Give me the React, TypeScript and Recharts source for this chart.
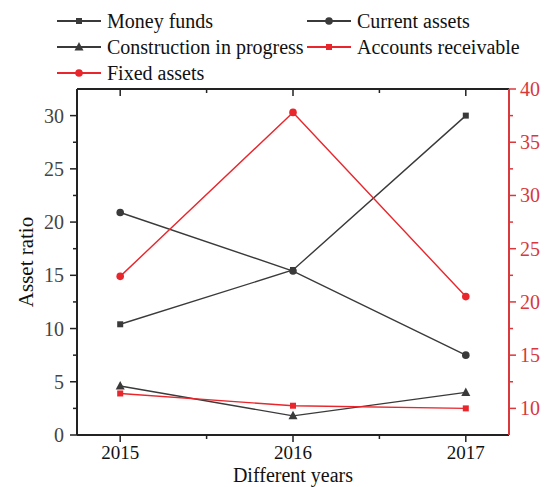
import React from 'react';
import { LineChart, Line, XAxis, YAxis, Legend, Label } from 'recharts';

const FONT = '"Liberation Serif", "Times New Roman", serif';
const BLACK = '#3a3a3a';
const RED = '#e8262c';
const AXIS_RED = '#d9383c';

const years = [2015, 2016, 2017];
const moneyFunds = [10.4, 15.5, 30.0];
const currentAssets = [20.9, 15.4, 7.5];
const construction = [4.6, 1.8, 4.0];
const accountsReceivable = [11.4, 10.25, 10.0];
const fixedAssets = [22.4, 37.8, 20.5];

const xTicks = [2015, 2015.5, 2016, 2016.5, 2017];
const leftTicks = [0, 2.5, 5, 7.5, 10, 12.5, 15, 17.5, 20, 22.5, 25, 27.5, 30];
const rightTicks = [10, 12.5, 15, 17.5, 20, 22.5, 25, 27.5, 30, 32.5, 35, 37.5, 40];

const data = years.map((year, i) => ({
  year,
  moneyFunds: moneyFunds[i],
  currentAssets: currentAssets[i],
  construction: construction[i],
  accountsReceivable: accountsReceivable[i],
  fixedAssets: fixedAssets[i],
}));

type Shape = 'square' | 'circle' | 'triangle';

const series: { key: string; name: string; color: string; shape: Shape; axis: string }[] = [
  { key: 'moneyFunds', name: 'Money funds', color: BLACK, shape: 'square', axis: 'left' },
  { key: 'currentAssets', name: 'Current assets', color: BLACK, shape: 'circle', axis: 'left' },
  { key: 'construction', name: 'Construction in progress', color: BLACK, shape: 'triangle', axis: 'left' },
  { key: 'accountsReceivable', name: 'Accounts receivable', color: RED, shape: 'square', axis: 'right' },
  { key: 'fixedAssets', name: 'Fixed assets', color: RED, shape: 'circle', axis: 'right' },
];

const Marker = ({ cx, cy, shape, color }: { cx: number; cy: number; shape: Shape; color: string }) => {
  if (shape === 'square') return <rect x={cx - 3} y={cy - 3} width={6} height={6} fill={color} />;
  if (shape === 'circle') return <circle cx={cx} cy={cy} r={3.8} fill={color} />;
  return <polygon points={`${cx},${cy - 5} ${cx - 4.5},${cy + 3.5} ${cx + 4.5},${cy + 3.5}`} fill={color} />;
};

// major ticks every 5 on the value axes
const isMajor = (v: number) => Math.abs(v % 5) < 1e-9;

const BottomTick = (props: any) => {
  const { x, y, payload } = props;
  const major = Number.isInteger(payload.value);
  return (
    <g>
      <line x1={x} x2={x} y1={y} y2={y + (major ? 7 : 4)} stroke="#222" strokeWidth={1.5} />
      {major && (
        <text x={x} y={y + 24} textAnchor="middle" fontSize={19} fontFamily={FONT} fill="#111">
          {payload.value}
        </text>
      )}
    </g>
  );
};

const TopTick = (props: any) => {
  const { x, y, payload } = props;
  const major = Number.isInteger(payload.value);
  return <line x1={x} x2={x} y1={y} y2={y + (major ? 7 : 4)} stroke="#222" strokeWidth={1.5} />;
};

const LeftTick = (props: any) => {
  const { x, y, payload } = props;
  const major = isMajor(payload.value);
  return (
    <g>
      <line x1={x} x2={x - (major ? 7 : 4)} y1={y} y2={y} stroke="#222" strokeWidth={1.5} />
      {major && (
        <text x={x - 13} y={y + 7} textAnchor="end" fontSize={20} fontFamily={FONT} fill="#444">
          {payload.value}
        </text>
      )}
    </g>
  );
};

const RightTick = (props: any) => {
  const { x, y, payload } = props;
  const major = isMajor(payload.value);
  return (
    <g>
      <line x1={x} x2={x + (major ? 7 : 4)} y1={y} y2={y} stroke={AXIS_RED} strokeWidth={1.5} />
      {major && (
        <text x={x + 11} y={y + 7} textAnchor="start" fontSize={20} fontFamily={FONT} fill={AXIS_RED}>
          {payload.value}
        </text>
      )}
    </g>
  );
};

const renderLegend = () => (
  <div style={{ position: 'relative', width: 549, height: 88, overflow: 'hidden', fontFamily: FONT, fontSize: 20 }}>
    {series.map((s, i) => {
      const col = i % 2;
      const row = Math.floor(i / 2);
      const left = col === 0 ? 57 : 307;
      const top = 21 + row * 26;
      return (
        <div key={s.key} style={{ position: 'absolute', left, top: top - 12, height: 24, display: 'flex', alignItems: 'center', whiteSpace: 'nowrap' }}>
          <svg width={44} height={12} style={{ marginRight: 6 }}>
            <line x1={0} x2={44} y1={6} y2={6} stroke={s.color} strokeWidth={2} />
            <Marker cx={22} cy={6} shape={s.shape} color={s.color} />
          </svg>
          <span style={{ color: '#111', lineHeight: '24px' }}>{s.name}</span>
        </div>
      );
    })}
  </div>
);

const YTitle = (props: any) => {
  const vb = props.viewBox || { x: 0, y: 89, width: 77, height: 346 };
  const cx = vb.x + 26;
  const cy = vb.y + vb.height / 2;
  return (
    <text
      transform={`translate(${cx}, ${cy}) rotate(-90)`}
      textAnchor="middle"
      dominantBaseline="central"
      fontSize={21}
      fontFamily={FONT}
      fill="#111"
    >
      Asset ratio
    </text>
  );
};

export default function App() {
  return (
    <div style={{ position: 'absolute', left: 0, top: 0, width: 549, height: 487, overflow: 'hidden', background: '#fff' }}>
      <LineChart width={549} height={487} data={data} margin={{ top: 0, right: 0, bottom: 0, left: 0 }}>
        <Legend verticalAlign="top" align="left" content={renderLegend} wrapperStyle={{ top: 0, left: 0 }} />
        <XAxis
          xAxisId="bottom"
          dataKey="year"
          type="number"
          domain={[2014.75, 2017.25]}
          allowDataOverflow
          ticks={xTicks}
          interval={0}
          height={52}
          tickSize={0}
          tickMargin={0}
          tickLine={false}
          tick={<BottomTick />}
          axisLine={{ stroke: '#222', strokeWidth: 2 }}
        >
          <Label value="Different years" position="insideBottom" offset={5} fontSize={20} fontFamily={FONT} fill="#111" />
        </XAxis>
        <XAxis
          xAxisId="top"
          orientation="top"
          dataKey="year"
          type="number"
          domain={[2014.75, 2017.25]}
          allowDataOverflow
          ticks={xTicks}
          interval={0}
          height={1}
          tickSize={0}
          tickMargin={0}
          tickLine={false}
          tick={<TopTick />}
          axisLine={{ stroke: '#222', strokeWidth: 2 }}
        />
        <YAxis
          yAxisId="left"
          type="number"
          domain={[0, 32.5]}
          allowDataOverflow
          ticks={leftTicks}
          interval={0}
          width={77}
          tickSize={0}
          tickMargin={0}
          tickLine={false}
          tick={<LeftTick />}
          axisLine={{ stroke: '#222', strokeWidth: 2 }}
        >
          <Label content={<YTitle />} />
        </YAxis>
        <YAxis
          yAxisId="right"
          orientation="right"
          type="number"
          domain={[7.5, 40]}
          allowDataOverflow
          ticks={rightTicks}
          interval={0}
          width={40}
          tickSize={0}
          tickMargin={0}
          tickLine={false}
          tick={<RightTick />}
          axisLine={{ stroke: AXIS_RED, strokeWidth: 2 }}
        />
        {series.map((s) => (
          <Line
            key={s.key}
            xAxisId="bottom"
            yAxisId={s.axis}
            dataKey={s.key}
            name={s.name}
            stroke={s.color}
            strokeWidth={1.4}
            isAnimationActive={false}
            dot={(p: any) => <Marker key={`${s.key}-${p.index}`} cx={p.cx} cy={p.cy} shape={s.shape} color={s.color} />}
            activeDot={false}
          />
        ))}
      </LineChart>
    </div>
  );
}
